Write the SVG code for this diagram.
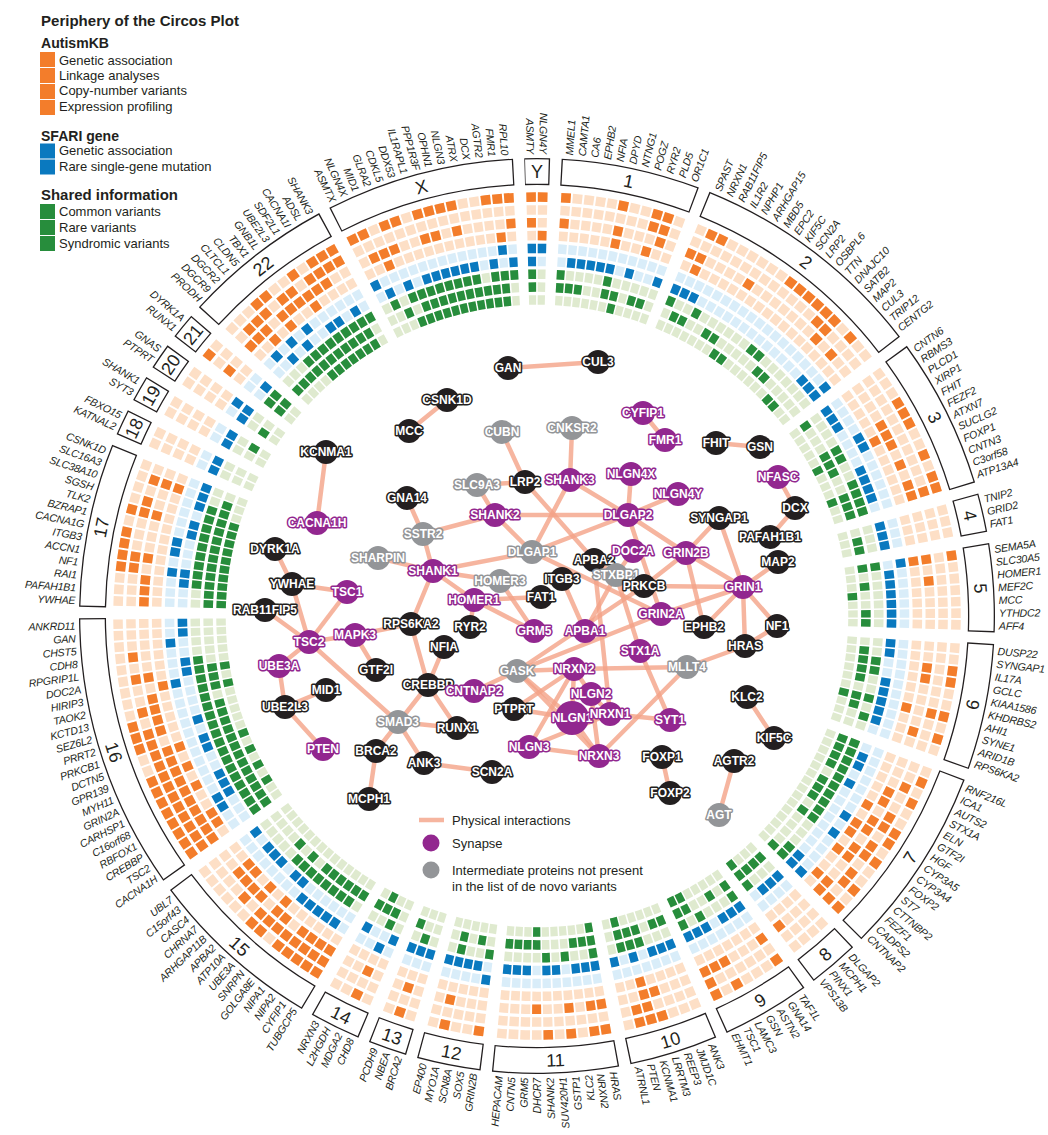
<svg xmlns="http://www.w3.org/2000/svg" width="1048" height="1135" viewBox="0 0 1048 1135">
<defs>
<style>
.lt{stroke-dashoffset:-0.85;stroke-dasharray:8.3 1.7 8.3 11.7 8.3 1.7 8.3 1.7 8.3 1.7 8.3 1.7 8.3 1.7 8.3 1.7 8.3 1.7 8.3 1.7 8.3 1.7 8.3 1.7 8.3 11.7 8.3 1.7 8.3 1.7 8.3 1.7 8.3 1.7 8.3 1.7 8.3 1.7 8.3 1.7 8.3 1.7 8.3 1.7 8.3 1.7 8.3 1.7 8.3 1.7 8.3 1.7 8.3 1.7 8.3 1.7 8.3 1.7 8.3 1.7 8.3 1.7 8.3 11.7 8.3 1.7 8.3 1.7 8.3 1.7 8.3 1.7 8.3 1.7 8.3 1.7 8.3 1.7 8.3 1.7 8.3 1.7 8.3 1.7 8.3 1.7 8.3 11.7 8.3 1.7 8.3 1.7 8.3 11.7 8.3 1.7 8.3 1.7 8.3 1.7 8.3 1.7 8.3 1.7 8.3 1.7 8.3 11.7 8.3 1.7 8.3 1.7 8.3 1.7 8.3 1.7 8.3 1.7 8.3 1.7 8.3 1.7 8.3 1.7 8.3 1.7 8.3 11.7 8.3 1.7 8.3 1.7 8.3 1.7 8.3 1.7 8.3 1.7 8.3 1.7 8.3 1.7 8.3 1.7 8.3 1.7 8.3 1.7 8.3 1.7 8.3 1.7 8.3 1.7 8.3 1.7 8.3 11.7 8.3 1.7 8.3 1.7 8.3 1.7 8.3 11.7 8.3 1.7 8.3 1.7 8.3 1.7 8.3 1.7 8.3 1.7 8.3 1.7 8.3 11.7 8.3 1.7 8.3 1.7 8.3 1.7 8.3 1.7 8.3 1.7 8.3 1.7 8.3 11.7 8.3 1.7 8.3 1.7 8.3 1.7 8.3 1.7 8.3 1.7 8.3 1.7 8.3 1.7 8.3 1.7 8.3 1.7 8.3 11.7 8.3 1.7 8.3 1.7 8.3 1.7 8.3 1.7 8.3 11.7 8.3 1.7 8.3 1.7 8.3 11.7 8.3 1.7 8.3 1.7 8.3 1.7 8.3 11.7 8.3 1.7 8.3 1.7 8.3 1.7 8.3 1.7 8.3 1.7 8.3 1.7 8.3 1.7 8.3 1.7 8.3 1.7 8.3 1.7 8.3 1.7 8.3 1.7 8.3 1.7 8.3 11.7 8.3 1.7 8.3 1.7 8.3 1.7 8.3 1.7 8.3 1.7 8.3 1.7 8.3 1.7 8.3 1.7 8.3 1.7 8.3 1.7 8.3 1.7 8.3 1.7 8.3 1.7 8.3 1.7 8.3 1.7 8.3 1.7 8.3 1.7 8.3 1.7 8.3 1.7 8.3 1.7 8.3 1.7 8.3 11.7 8.3 1.7 8.3 1.7 8.3 1.7 8.3 1.7 8.3 1.7 8.3 1.7 8.3 1.7 8.3 1.7 8.3 1.7 8.3 1.7 8.3 1.7 8.3 1.7 8.3 11.7 8.3 1.7 8.3 11.7 8.3 1.7 8.3 11.7 8.3 1.7 8.3 11.7 8.3 1.7 8.3 11.7 8.3 1.7 8.3 1.7 8.3 1.7 8.3 1.7 8.3 1.7 8.3 1.7 8.3 1.7 8.3 1.7 8.3 1.7 8.3 1.7 8.3 1.7 8.3 11.7 8.3 1.7 8.3 1.7 8.3 1.7 8.3 1.7 8.3 1.7 8.3 1.7 8.3 1.7 8.3 1.7 8.3 1.7 8.3 1.7 8.3 1.7 8.3 1.7 8.3 1.7 8.3 1.7 8.3 11.7}
.lo{stroke:#fddfc6}.lb{stroke:#d9edf9}.lg{stroke:#dfeacf}
.do{stroke:#f37d2b}.db{stroke:#0a79bf}.dg{stroke:#278d3c}
.gl{font-family:"Liberation Sans",Arial,sans-serif;font-style:italic;font-size:10.6px;letter-spacing:-0.2px;fill:#231f20}
.gi{text-anchor:end}
.cn{font-family:"Liberation Sans",Arial,sans-serif;font-size:18px;fill:#231f20;text-anchor:middle}
.lgt{font-family:"Liberation Sans",Arial,sans-serif;font-size:13px;fill:#231f20}
.lgh{font-family:"Liberation Sans",Arial,sans-serif;font-size:15.5px;font-weight:bold;fill:#231f20}
#connectors line{stroke:#f4a287;stroke-width:4.5;stroke-opacity:0.8;stroke-linecap:round}
.n text{font-family:"Liberation Sans",Arial,sans-serif;font-weight:bold;font-size:12px;fill:#fff;text-anchor:middle;paint-order:stroke;stroke-width:3;stroke-linejoin:round}
.b circle{fill:#231f20}.b text{stroke:#231f20}
.p circle{fill:#92278f}.p text{stroke:#92278f}
.g circle{fill:#939598}.g text{stroke:#939598}
</style>
<circle id="k1" r="361.2817" fill="none" stroke-width="8.191" transform="translate(537 616) rotate(-91.5859) scale(1.15976)"/>
<circle id="k2" r="361.2817" fill="none" stroke-width="8.452" transform="translate(537 616) rotate(-91.5859) scale(1.12405)"/>
<circle id="k3" r="361.2817" fill="none" stroke-width="8.727" transform="translate(537 616) rotate(-91.5859) scale(1.08862)"/>
<circle id="k4" r="361.2817" fill="none" stroke-width="9.022" transform="translate(537 616) rotate(-91.5859) scale(1.05292)"/>
<circle id="k5" r="361.2817" fill="none" stroke-width="9.339" transform="translate(537 616) rotate(-91.5859) scale(1.01721)"/>
<circle id="k6" r="361.2817" fill="none" stroke-width="9.679" transform="translate(537 616) rotate(-91.5859) scale(0.98150)"/>
<circle id="k7" r="361.2817" fill="none" stroke-width="10.042" transform="translate(537 616) rotate(-91.5859) scale(0.94607)"/>
<circle id="k8" r="361.2817" fill="none" stroke-width="10.436" transform="translate(537 616) rotate(-91.5859) scale(0.91036)"/>
<circle id="k9" r="361.2817" fill="none" stroke-width="10.861" transform="translate(537 616) rotate(-91.5859) scale(0.87466)"/>
</defs>
<rect width="1048" height="1135" fill="#fff"/>

<g id="legend">
<text class="lgh" x="41" y="26" textLength="198" lengthAdjust="spacingAndGlyphs">Periphery of the Circos Plot</text>
<text class="lgh" x="41" y="48" textLength="68" lengthAdjust="spacingAndGlyphs">AutismKB</text>
<rect x="40" y="52" width="15" height="15" fill="#f37d2b"/>
<rect x="40" y="68" width="15" height="15" fill="#f37d2b"/>
<rect x="40" y="84" width="15" height="15" fill="#f37d2b"/>
<rect x="40" y="100" width="15" height="15" fill="#f37d2b"/>
<text class="lgt" x="59" y="64.5">Genetic association</text>
<text class="lgt" x="59" y="80.2">Linkage analyses</text>
<text class="lgt" x="59" y="95.2">Copy-number variants</text>
<text class="lgt" x="59" y="111.2">Expression profiling</text>
<text class="lgh" x="41" y="140.5" textLength="78" lengthAdjust="spacingAndGlyphs">SFARI gene</text>
<rect x="40" y="143.5" width="15" height="15" fill="#0a79bf"/>
<rect x="40" y="159.5" width="15" height="15" fill="#0a79bf"/>
<text class="lgt" x="59" y="155.2">Genetic association</text>
<text class="lgt" x="59" y="171.2">Rare single-gene mutation</text>
<text class="lgh" x="41" y="199.5" textLength="137" lengthAdjust="spacingAndGlyphs">Shared information</text>
<rect x="40" y="204" width="15" height="15" fill="#278d3c"/>
<rect x="40" y="220" width="15" height="15" fill="#278d3c"/>
<rect x="40" y="236" width="15" height="15" fill="#278d3c"/>
<text class="lgt" x="59" y="216.2">Common variants</text>
<text class="lgt" x="59" y="232.2">Rare variants</text>
<text class="lgt" x="59" y="248.2">Syndromic variants</text>
</g>

<g id="heatmap-light">
<use href="#k1" class="lt lo"/><use href="#k2" class="lt lo"/><use href="#k3" class="lt lo"/><use href="#k4" class="lt lo"/>
<use href="#k5" class="lt lb"/><use href="#k6" class="lt lb"/>
<use href="#k7" class="lt lg"/><use href="#k8" class="lt lg"/><use href="#k9" class="lt lg"/>
</g>

<g id="heatmap-dark">
<g id="cY" stroke-dashoffset="-0.85">
<use href="#k1" class="do" stroke-dasharray="8.3 1.7 8.3 3000"/>
<use href="#k3" class="do" stroke-dasharray="8.3 3000"/>
<use href="#k4" class="do" stroke-dasharray="0 10 8.3 3000"/>
<use href="#k5" class="db" stroke-dasharray="8.3 1.7 8.3 3000"/>
<use href="#k6" class="db" stroke-dasharray="8.3 3000"/>
<use href="#k7" class="dg" stroke-dasharray="8.3 3000"/>
<use href="#k8" class="dg" stroke-dasharray="8.3 3000"/>
</g>
<g id="c1" stroke-dashoffset="-30.85">
<use href="#k1" class="do" stroke-dasharray="8.3 41.7 8.3 21.7 8.3 1.7 8.3 3000"/>
<use href="#k2" class="do" stroke-dasharray="0 80 8.3 1.7 8.3 3000"/>
<use href="#k3" class="do" stroke-dasharray="8.3 41.7 8.3 31.7 8.3 3000"/>
<use href="#k4" class="do" stroke-dasharray="0 50 8.3 21.7 8.3 3000"/>
<use href="#k6" class="db" stroke-dasharray="0 10 8.3 1.7 8.3 1.7 8.3 1.7 8.3 1.7 8.3 11.7 8.3 21.7 8.3 3000"/>
<use href="#k7" class="dg" stroke-dasharray="8.3 41.7 8.3 3000"/>
<use href="#k8" class="dg" stroke-dasharray="8.3 1.7 8.3 1.7 8.3 21.7 8.3 1.7 8.3 11.7 8.3 1.7 8.3 3000"/>
<use href="#k9" class="dg" stroke-dasharray="0 60 8.3 3000"/>
</g>
<g id="c2" stroke-dashoffset="-150.85">
<use href="#k1" class="do" stroke-dasharray="0 10 8.3 1.7 8.3 61.7 8.3 1.7 8.3 1.7 8.3 1.7 8.3 1.7 8.3 1.7 8.3 11.7 8.3 3000"/>
<use href="#k2" class="do" stroke-dasharray="0 130 8.3 1.7 8.3 3000"/>
<use href="#k3" class="do" stroke-dasharray="8.3 1.7 8.3 41.7 8.3 71.7 8.3 11.7 8.3 3000"/>
<use href="#k4" class="do" stroke-dasharray="0 10 8.3 3000"/>
<use href="#k5" class="db" stroke-dasharray="0 180 8.3 3000"/>
<use href="#k6" class="db" stroke-dasharray="8.3 1.7 8.3 1.7 8.3 131.7 8.3 1.7 8.3 1.7 8.3 3000"/>
<use href="#k7" class="dg" stroke-dasharray="8.3 21.7 8.3 61.7 8.3 1.7 8.3 3000"/>
<use href="#k8" class="dg" stroke-dasharray="0 10 8.3 1.7 8.3 21.7 8.3 1.7 8.3 51.7 8.3 1.7 8.3 3000"/>
<use href="#k9" class="dg" stroke-dasharray="0 70 8.3 1.7 8.3 61.7 8.3 1.7 8.3 3000"/>
</g>
<g id="c3" stroke-dashoffset="-350.85">
<use href="#k1" class="do" stroke-dasharray="0 30 8.3 1.7 8.3 1.7 8.3 21.7 8.3 11.7 8.3 1.7 8.3 3000"/>
<use href="#k2" class="do" stroke-dasharray="0 110 8.3 3000"/>
<use href="#k3" class="do" stroke-dasharray="0 40 8.3 1.7 8.3 1.7 8.3 11.7 8.3 11.7 8.3 1.7 8.3 3000"/>
<use href="#k4" class="do" stroke-dasharray="0 50 8.3 3000"/>
<use href="#k5" class="db" stroke-dasharray="0 40 8.3 1.7 8.3 3000"/>
<use href="#k6" class="db" stroke-dasharray="8.3 1.7 8.3 1.7 8.3 41.7 8.3 1.7 8.3 1.7 8.3 1.7 8.3 3000"/>
<use href="#k7" class="dg" stroke-dasharray="0 40 8.3 1.7 8.3 21.7 8.3 1.7 8.3 1.7 8.3 1.7 8.3 3000"/>
<use href="#k8" class="dg" stroke-dasharray="8.3 31.7 8.3 1.7 8.3 1.7 8.3 21.7 8.3 1.7 8.3 1.7 8.3 3000"/>
<use href="#k9" class="dg" stroke-dasharray="0 50 8.3 31.7 8.3 3000"/>
</g>
<g id="c4" stroke-dashoffset="-480.85">
<use href="#k6" class="db" stroke-dasharray="8.3 1.7 8.3 1.7 8.3 3000"/>
<use href="#k8" class="dg" stroke-dasharray="0 10 8.3 1.7 8.3 3000"/>
</g>
<g id="c5" stroke-dashoffset="-520.85">
<use href="#k1" class="do" stroke-dasharray="8.3 3000"/>
<use href="#k3" class="do" stroke-dasharray="8.3 11.7 8.3 3000"/>
<use href="#k4" class="do" stroke-dasharray="8.3 3000"/>
<use href="#k5" class="db" stroke-dasharray="8.3 3000"/>
<use href="#k6" class="db" stroke-dasharray="0 10 8.3 1.7 8.3 1.7 8.3 1.7 8.3 1.7 8.3 1.7 8.3 3000"/>
<use href="#k7" class="dg" stroke-dasharray="8.3 3000"/>
<use href="#k8" class="dg" stroke-dasharray="8.3 11.7 8.3 21.7 8.3 1.7 8.3 3000"/>
<use href="#k9" class="dg" stroke-dasharray="0 30 8.3 3000"/>
</g>
<g id="c6" stroke-dashoffset="-600.85">
<use href="#k1" class="do" stroke-dasharray="0 20 8.3 1.7 8.3 21.7 8.3 11.7 8.3 3000"/>
<use href="#k2" class="do" stroke-dasharray="0 60 8.3 3000"/>
<use href="#k3" class="do" stroke-dasharray="0 20 8.3 1.7 8.3 41.7 8.3 3000"/>
<use href="#k4" class="do" stroke-dasharray="0 60 8.3 3000"/>
<use href="#k6" class="db" stroke-dasharray="8.3 1.7 8.3 21.7 8.3 1.7 8.3 1.7 8.3 1.7 8.3 1.7 8.3 3000"/>
<use href="#k7" class="dg" stroke-dasharray="0 20 8.3 1.7 8.3 21.7 8.3 11.7 8.3 3000"/>
<use href="#k8" class="dg" stroke-dasharray="0 10 8.3 1.7 8.3 1.7 8.3 1.7 8.3 11.7 8.3 1.7 8.3 3000"/>
<use href="#k9" class="dg" stroke-dasharray="0 60 8.3 3000"/>
</g>
<g id="c7" stroke-dashoffset="-710.85">
<use href="#k1" class="do" stroke-dasharray="0 10 8.3 11.7 8.3 21.7 8.3 1.7 8.3 11.7 8.3 21.7 8.3 11.7 8.3 3000"/>
<use href="#k2" class="do" stroke-dasharray="0 20 8.3 21.7 8.3 1.7 8.3 11.7 8.3 1.7 8.3 11.7 8.3 1.7 8.3 11.7 8.3 3000"/>
<use href="#k3" class="do" stroke-dasharray="0 30 8.3 1.7 8.3 11.7 8.3 1.7 8.3 11.7 8.3 1.7 8.3 21.7 8.3 1.7 8.3 3000"/>
<use href="#k4" class="do" stroke-dasharray="0 50 8.3 11.7 8.3 1.7 8.3 11.7 8.3 21.7 8.3 3000"/>
<use href="#k5" class="db" stroke-dasharray="0 70 8.3 11.7 8.3 41.7 8.3 3000"/>
<use href="#k6" class="db" stroke-dasharray="0 10 8.3 1.7 8.3 11.7 8.3 81.7 8.3 1.7 8.3 3000"/>
<use href="#k7" class="dg" stroke-dasharray="8.3 1.7 8.3 1.7 8.3 1.7 8.3 1.7 8.3 1.7 8.3 1.7 8.3 1.7 8.3 1.7 8.3 1.7 8.3 31.7 8.3 1.7 8.3 3000"/>
<use href="#k8" class="dg" stroke-dasharray="8.3 1.7 8.3 1.7 8.3 1.7 8.3 11.7 8.3 1.7 8.3 1.7 8.3 11.7 8.3 41.7 8.3 3000"/>
</g>
<g id="c8" stroke-dashoffset="-870.85">
<use href="#k3" class="do" stroke-dasharray="0 30 8.3 3000"/>
<use href="#k6" class="db" stroke-dasharray="8.3 1.7 8.3 1.7 8.3 3000"/>
<use href="#k7" class="dg" stroke-dasharray="0 30 8.3 3000"/>
<use href="#k8" class="dg" stroke-dasharray="8.3 1.7 8.3 1.7 8.3 1.7 8.3 3000"/>
<use href="#k9" class="dg" stroke-dasharray="0 30 8.3 3000"/>
</g>
<g id="c9" stroke-dashoffset="-920.85">
<use href="#k1" class="do" stroke-dasharray="8.3 31.7 8.3 11.7 8.3 3000"/>
<use href="#k2" class="do" stroke-dasharray="0 60 8.3 3000"/>
<use href="#k3" class="do" stroke-dasharray="8.3 31.7 8.3 1.7 8.3 1.7 8.3 3000"/>
<use href="#k6" class="db" stroke-dasharray="8.3 1.7 8.3 1.7 8.3 11.7 8.3 1.7 8.3 1.7 8.3 3000"/>
<use href="#k7" class="dg" stroke-dasharray="8.3 31.7 8.3 11.7 8.3 3000"/>
<use href="#k8" class="dg" stroke-dasharray="8.3 11.7 8.3 21.7 8.3 1.7 8.3 3000"/>
<use href="#k9" class="dg" stroke-dasharray="0 50 8.3 1.7 8.3 3000"/>
</g>
<g id="c10" stroke-dashoffset="-1000.85">
<use href="#k1" class="do" stroke-dasharray="0 30 8.3 1.7 8.3 1.7 8.3 3000"/>
<use href="#k2" class="do" stroke-dasharray="0 40 8.3 1.7 8.3 3000"/>
<use href="#k3" class="do" stroke-dasharray="0 30 8.3 1.7 8.3 3000"/>
<use href="#k4" class="do" stroke-dasharray="0 40 8.3 3000"/>
<use href="#k6" class="db" stroke-dasharray="8.3 1.7 8.3 1.7 8.3 11.7 8.3 11.7 8.3 3000"/>
<use href="#k7" class="dg" stroke-dasharray="0 30 8.3 1.7 8.3 1.7 8.3 3000"/>
<use href="#k8" class="dg" stroke-dasharray="8.3 1.7 8.3 11.7 8.3 1.7 8.3 1.7 8.3 3000"/>
<use href="#k9" class="dg" stroke-dasharray="0 50 8.3 3000"/>
</g>
<g id="c11" stroke-dashoffset="-1080.85">
<use href="#k1" class="do" stroke-dasharray="8.3 1.7 8.3 11.7 8.3 11.7 8.3 3000"/>
<use href="#k3" class="do" stroke-dasharray="8.3 1.7 8.3 11.7 8.3 21.7 8.3 3000"/>
<use href="#k6" class="db" stroke-dasharray="8.3 1.7 8.3 1.7 8.3 11.7 8.3 1.7 8.3 11.7 8.3 1.7 8.3 1.7 8.3 3000"/>
<use href="#k7" class="dg" stroke-dasharray="8.3 21.7 8.3 11.7 8.3 3000"/>
<use href="#k8" class="dg" stroke-dasharray="8.3 1.7 8.3 1.7 8.3 31.7 8.3 1.7 8.3 1.7 8.3 1.7 8.3 3000"/>
<use href="#k9" class="dg" stroke-dasharray="8.3 51.7 8.3 3000"/>
</g>
<g id="c12" stroke-dashoffset="-1190.85">
<use href="#k1" class="do" stroke-dasharray="8.3 21.7 8.3 3000"/>
<use href="#k3" class="do" stroke-dasharray="0 30 8.3 3000"/>
<use href="#k5" class="db" stroke-dasharray="8.3 3000"/>
<use href="#k6" class="db" stroke-dasharray="0 10 8.3 1.7 8.3 1.7 8.3 1.7 8.3 3000"/>
<use href="#k7" class="dg" stroke-dasharray="8.3 21.7 8.3 3000"/>
<use href="#k8" class="dg" stroke-dasharray="0 10 8.3 11.7 8.3 3000"/>
</g>
<g id="c13" stroke-dashoffset="-1250.85">
<use href="#k1" class="do" stroke-dasharray="0 10 8.3 3000"/>
<use href="#k3" class="do" stroke-dasharray="0 10 8.3 3000"/>
<use href="#k6" class="db" stroke-dasharray="8.3 1.7 8.3 1.7 8.3 3000"/>
<use href="#k7" class="dg" stroke-dasharray="0 10 8.3 3000"/>
<use href="#k8" class="dg" stroke-dasharray="0 20 8.3 3000"/>
</g>
<g id="c14" stroke-dashoffset="-1290.85">
<use href="#k1" class="do" stroke-dasharray="0 10 8.3 3000"/>
<use href="#k3" class="do" stroke-dasharray="0 10 8.3 3000"/>
<use href="#k5" class="db" stroke-dasharray="0 10 8.3 3000"/>
<use href="#k6" class="db" stroke-dasharray="8.3 21.7 8.3 3000"/>
<use href="#k7" class="dg" stroke-dasharray="0 10 8.3 3000"/>
<use href="#k8" class="dg" stroke-dasharray="0 10 8.3 1.7 8.3 1.7 8.3 3000"/>
<use href="#k9" class="dg" stroke-dasharray="0 20 8.3 3000"/>
</g>
<g id="c15" stroke-dashoffset="-1340.85">
<use href="#k1" class="do" stroke-dasharray="8.3 1.7 8.3 1.7 8.3 1.7 8.3 1.7 8.3 11.7 8.3 1.7 8.3 3000"/>
<use href="#k2" class="do" stroke-dasharray="8.3 1.7 8.3 1.7 8.3 1.7 8.3 1.7 8.3 1.7 8.3 1.7 8.3 1.7 8.3 11.7 8.3 3000"/>
<use href="#k3" class="do" stroke-dasharray="8.3 1.7 8.3 1.7 8.3 1.7 8.3 11.7 8.3 1.7 8.3 11.7 8.3 1.7 8.3 1.7 8.3 1.7 8.3 3000"/>
<use href="#k4" class="do" stroke-dasharray="0 60 8.3 11.7 8.3 11.7 8.3 1.7 8.3 3000"/>
<use href="#k5" class="db" stroke-dasharray="0 10 8.3 1.7 8.3 1.7 8.3 1.7 8.3 1.7 8.3 3000"/>
<use href="#k6" class="db" stroke-dasharray="0 60 8.3 1.7 8.3 11.7 8.3 1.7 8.3 1.7 8.3 11.7 8.3 3000"/>
<use href="#k7" class="dg" stroke-dasharray="0 10 8.3 1.7 8.3 1.7 8.3 1.7 8.3 1.7 8.3 1.7 8.3 1.7 8.3 1.7 8.3 3000"/>
<use href="#k8" class="dg" stroke-dasharray="8.3 1.7 8.3 1.7 8.3 1.7 8.3 1.7 8.3 1.7 8.3 11.7 8.3 11.7 8.3 3000"/>
</g>
<g id="c16" stroke-dashoffset="-1490.85">
<use href="#k1" class="do" stroke-dasharray="8.3 1.7 8.3 1.7 8.3 1.7 8.3 1.7 8.3 1.7 8.3 1.7 8.3 1.7 8.3 21.7 8.3 1.7 8.3 1.7 8.3 3000"/>
<use href="#k2" class="do" stroke-dasharray="8.3 1.7 8.3 1.7 8.3 1.7 8.3 1.7 8.3 1.7 8.3 1.7 8.3 1.7 8.3 1.7 8.3 1.7 8.3 1.7 8.3 1.7 8.3 11.7 8.3 21.7 8.3 11.7 8.3 3000"/>
<use href="#k3" class="do" stroke-dasharray="8.3 1.7 8.3 1.7 8.3 1.7 8.3 1.7 8.3 1.7 8.3 1.7 8.3 1.7 8.3 1.7 8.3 1.7 8.3 11.7 8.3 1.7 8.3 1.7 8.3 1.7 8.3 11.7 8.3 3000"/>
<use href="#k4" class="do" stroke-dasharray="0 10 8.3 1.7 8.3 21.7 8.3 11.7 8.3 11.7 8.3 51.7 8.3 3000"/>
<use href="#k5" class="db" stroke-dasharray="0 20 8.3 1.7 8.3 111.7 8.3 31.7 8.3 3000"/>
<use href="#k6" class="db" stroke-dasharray="0 30 8.3 1.7 8.3 1.7 8.3 21.7 8.3 1.7 8.3 11.7 8.3 41.7 8.3 1.7 8.3 21.7 8.3 1.7 8.3 3000"/>
<use href="#k7" class="dg" stroke-dasharray="8.3 1.7 8.3 1.7 8.3 1.7 8.3 1.7 8.3 1.7 8.3 1.7 8.3 1.7 8.3 1.7 8.3 1.7 8.3 1.7 8.3 1.7 8.3 1.7 8.3 1.7 8.3 1.7 8.3 1.7 8.3 1.7 8.3 1.7 8.3 3000"/>
<use href="#k8" class="dg" stroke-dasharray="8.3 1.7 8.3 1.7 8.3 1.7 8.3 1.7 8.3 1.7 8.3 1.7 8.3 1.7 8.3 1.7 8.3 1.7 8.3 1.7 8.3 1.7 8.3 1.7 8.3 11.7 8.3 1.7 8.3 1.7 8.3 3000"/>
<use href="#k9" class="dg" stroke-dasharray="0 20 8.3 11.7 8.3 11.7 8.3 11.7 8.3 51.7 8.3 11.7 8.3 3000"/>
</g>
<g id="c17" stroke-dashoffset="-1720.85">
<use href="#k1" class="do" stroke-dasharray="0 30 8.3 1.7 8.3 1.7 8.3 1.7 8.3 11.7 8.3 3000"/>
<use href="#k2" class="do" stroke-dasharray="0 30 8.3 1.7 8.3 31.7 8.3 1.7 8.3 11.7 8.3 3000"/>
<use href="#k3" class="do" stroke-dasharray="8.3 1.7 8.3 1.7 8.3 11.7 8.3 31.7 8.3 21.7 8.3 3000"/>
<use href="#k4" class="do" stroke-dasharray="0 110 8.3 3000"/>
<use href="#k5" class="db" stroke-dasharray="0 30 8.3 11.7 8.3 1.7 8.3 3000"/>
<use href="#k6" class="db" stroke-dasharray="0 20 8.3 1.7 8.3 31.7 8.3 1.7 8.3 11.7 8.3 1.7 8.3 1.7 8.3 3000"/>
<use href="#k7" class="dg" stroke-dasharray="0 20 8.3 1.7 8.3 1.7 8.3 1.7 8.3 1.7 8.3 1.7 8.3 1.7 8.3 1.7 8.3 1.7 8.3 3000"/>
<use href="#k8" class="dg" stroke-dasharray="8.3 1.7 8.3 1.7 8.3 1.7 8.3 1.7 8.3 1.7 8.3 1.7 8.3 1.7 8.3 1.7 8.3 1.7 8.3 1.7 8.3 1.7 8.3 3000"/>
<use href="#k9" class="dg" stroke-dasharray="8.3 1.7 8.3 1.7 8.3 1.7 8.3 1.7 8.3 1.7 8.3 1.7 8.3 1.7 8.3 1.7 8.3 1.7 8.3 3000"/>
</g>
<g id="c18" stroke-dashoffset="-1860.85">
<use href="#k6" class="db" stroke-dasharray="8.3 1.7 8.3 3000"/>
</g>
<g id="c19" stroke-dashoffset="-1890.85">
<use href="#k6" class="db" stroke-dasharray="8.3 1.7 8.3 3000"/>
<use href="#k8" class="dg" stroke-dasharray="0 10 8.3 3000"/>
</g>
<g id="c20" stroke-dashoffset="-1920.85">
<use href="#k5" class="db" stroke-dasharray="0 10 8.3 3000"/>
<use href="#k6" class="db" stroke-dasharray="8.3 1.7 8.3 3000"/>
<use href="#k8" class="dg" stroke-dasharray="8.3 3000"/>
</g>
<g id="c21" stroke-dashoffset="-1950.85">
<use href="#k1" class="do" stroke-dasharray="8.3 3000"/>
<use href="#k3" class="do" stroke-dasharray="8.3 3000"/>
<use href="#k6" class="db" stroke-dasharray="0 10 8.3 3000"/>
<use href="#k7" class="dg" stroke-dasharray="8.3 1.7 8.3 3000"/>
<use href="#k8" class="dg" stroke-dasharray="8.3 1.7 8.3 3000"/>
</g>
<g id="c22" stroke-dashoffset="-1980.85">
<use href="#k1" class="do" stroke-dasharray="0 30 8.3 1.7 8.3 21.7 8.3 11.7 8.3 1.7 8.3 1.7 8.3 3000"/>
<use href="#k2" class="do" stroke-dasharray="0 10 8.3 1.7 8.3 1.7 8.3 11.7 8.3 1.7 8.3 11.7 8.3 1.7 8.3 1.7 8.3 1.7 8.3 3000"/>
<use href="#k3" class="do" stroke-dasharray="8.3 1.7 8.3 1.7 8.3 11.7 8.3 1.7 8.3 1.7 8.3 1.7 8.3 1.7 8.3 1.7 8.3 3000"/>
<use href="#k4" class="do" stroke-dasharray="0 20 8.3 11.7 8.3 21.7 8.3 3000"/>
<use href="#k5" class="db" stroke-dasharray="0 10 8.3 11.7 8.3 11.7 8.3 3000"/>
<use href="#k6" class="db" stroke-dasharray="0 20 8.3 11.7 8.3 21.7 8.3 1.7 8.3 11.7 8.3 3000"/>
<use href="#k7" class="dg" stroke-dasharray="0 30 8.3 1.7 8.3 1.7 8.3 1.7 8.3 1.7 8.3 1.7 8.3 1.7 8.3 1.7 8.3 1.7 8.3 3000"/>
<use href="#k8" class="dg" stroke-dasharray="8.3 1.7 8.3 1.7 8.3 1.7 8.3 1.7 8.3 1.7 8.3 1.7 8.3 1.7 8.3 1.7 8.3 1.7 8.3 1.7 8.3 3000"/>
<use href="#k9" class="dg" stroke-dasharray="0 40 8.3 1.7 8.3 1.7 8.3 1.7 8.3 1.7 8.3 1.7 8.3 1.7 8.3 3000"/>
</g>
<g id="cX" stroke-dashoffset="-2110.85">
<use href="#k1" class="do" stroke-dasharray="8.3 1.7 8.3 11.7 8.3 1.7 8.3 11.7 8.3 1.7 8.3 1.7 8.3 1.7 8.3 21.7 8.3 1.7 8.3 1.7 8.3 3000"/>
<use href="#k3" class="do" stroke-dasharray="0 10 8.3 1.7 8.3 1.7 8.3 21.7 8.3 1.7 8.3 11.7 8.3 41.7 8.3 3000"/>
<use href="#k4" class="do" stroke-dasharray="0 20 8.3 101.7 8.3 3000"/>
<use href="#k5" class="db" stroke-dasharray="8.3 121.7 8.3 3000"/>
<use href="#k6" class="db" stroke-dasharray="0 10 8.3 11.7 8.3 11.7 8.3 1.7 8.3 1.7 8.3 1.7 8.3 1.7 8.3 1.7 8.3 11.7 8.3 11.7 8.3 3000"/>
<use href="#k7" class="dg" stroke-dasharray="0 10 8.3 11.7 8.3 1.7 8.3 1.7 8.3 1.7 8.3 1.7 8.3 1.7 8.3 1.7 8.3 1.7 8.3 11.7 8.3 1.7 8.3 1.7 8.3 3000"/>
<use href="#k8" class="dg" stroke-dasharray="0 20 8.3 11.7 8.3 1.7 8.3 1.7 8.3 1.7 8.3 1.7 8.3 1.7 8.3 1.7 8.3 1.7 8.3 1.7 8.3 1.7 8.3 3000"/>
<use href="#k9" class="dg" stroke-dasharray="0 30 8.3 1.7 8.3 1.7 8.3 1.7 8.3 1.7 8.3 1.7 8.3 1.7 8.3 1.7 8.3 1.7 8.3 1.7 8.3 1.7 8.3 3000"/>
</g>
</g>

<g id="chromosome-boxes" fill="none" transform="translate(537 616) rotate(-91.5859) scale(1.23034)">
<circle r="361.2817" stroke="#231f20" stroke-width="21.95" stroke-dashoffset="0.5" stroke-dasharray="21 9 111 9 191 9 121 9 31 9 71 9 101 9 151 9 41 9 71 9 71 9 101 9 51 9 31 9 41 9 141 9 221 9 131 9 21 9 21 9 21 9 21 9 121 9 151 9"/>
<circle r="361.2817" stroke="#fff" stroke-width="19.85" stroke-dashoffset="-0.55" stroke-dasharray="18.9 11.1 108.9 11.1 188.9 11.1 118.9 11.1 28.9 11.1 68.9 11.1 98.9 11.1 148.9 11.1 38.9 11.1 68.9 11.1 68.9 11.1 98.9 11.1 48.9 11.1 28.9 11.1 38.9 11.1 138.9 11.1 218.9 11.1 128.9 11.1 18.9 11.1 18.9 11.1 18.9 11.1 18.9 11.1 118.9 11.1 148.9 11.1"/>
</g>

<g id="chromosome-numbers" class="cn">
<text transform="translate(537 171.5)" y="6.3">Y</text>
<text transform="translate(628.6 181) rotate(11.894)" y="6.3">1</text>
<text transform="translate(806.1 262.2) rotate(37.27)" y="6.3">2</text>
<text transform="translate(934.6 417.3) rotate(63.44)" y="6.3">3</text>
<text transform="translate(970 515.4) rotate(76.92)" y="6.3">4</text>
<text transform="translate(980.6 588.3) rotate(86.43)" y="6.3">5</text>
<text transform="translate(972.6 704.6) rotate(-78.5)" y="6.3">6</text>
<text transform="translate(910.2 857.5) rotate(-57.09)" y="6.3">7</text>
<text transform="translate(825.3 954.3) rotate(-40.44)" y="6.3">8</text>
<text transform="translate(760.2 1000.4) rotate(-30.13)" y="6.3">9</text>
<text transform="translate(670.3 1040.1) rotate(-17.45)" y="6.3">10</text>
<text transform="translate(555.5 1060.1) rotate(-2.38)" y="6.3">11</text>
<text transform="translate(451.4 1052.2) rotate(11.1)" y="6.3">12</text>
<text transform="translate(392.1 1036.2) rotate(19.03)" y="6.3">13</text>
<text transform="translate(341 1015) rotate(26.17)" y="6.3">14</text>
<text transform="translate(239.5 946.2) rotate(42.03)" y="6.3">15</text>
<text transform="translate(113.9 752.2) rotate(72.16)" y="6.3">16</text>
<text transform="translate(101.4 527.4) rotate(-78.5)" y="6.3">17</text>
<text transform="translate(134.1 428.3) rotate(-65.02)" y="6.3">18</text>
<text transform="translate(151.1 395.5) rotate(-60.26)" y="6.3">19</text>
<text transform="translate(170.6 364.3) rotate(-55.51)" y="6.3">20</text>
<text transform="translate(192.9 334.6) rotate(-50.75)" y="6.3">21</text>
<text transform="translate(263 266) rotate(-38.06)" y="6.3">22</text>
<text transform="translate(421.5 186.8) rotate(-15.07)" y="6.3">X</text>
</g>

<g id="gene-labels" class="gl" transform="translate(537 616)">
<g id="labels-out">
<text transform="rotate(-86.035)" x="462" y="4">MMEL1</text>
<text transform="rotate(-84.449)" x="462" y="4">CAMTA1</text>
<text transform="rotate(-82.863)" x="462" y="4">CA6</text>
<text transform="rotate(-81.277)" x="462" y="4">EPHB2</text>
<text transform="rotate(-79.691)" x="462" y="4">NFIA</text>
<text transform="rotate(-78.106)" x="462" y="4">DPYD</text>
<text transform="rotate(-76.52)" x="462" y="4">NTNG1</text>
<text transform="rotate(-74.934)" x="462" y="4">POGZ</text>
<text transform="rotate(-73.348)" x="462" y="4">RYR2</text>
<text transform="rotate(-71.762)" x="462" y="4">PLD5</text>
<text transform="rotate(-70.176)" x="462" y="4">OR1C1</text>
<text transform="rotate(-67.004)" x="462" y="4">SPAST</text>
<text transform="rotate(-65.418)" x="462" y="4">NRXN1</text>
<text transform="rotate(-63.832)" x="462" y="4">RAB11FIP5</text>
<text transform="rotate(-62.247)" x="462" y="4">IL1R2</text>
<text transform="rotate(-60.661)" x="462" y="4">NPHP1</text>
<text transform="rotate(-59.075)" x="462" y="4">ARHGAP15</text>
<text transform="rotate(-57.489)" x="462" y="4">MBD5</text>
<text transform="rotate(-55.903)" x="462" y="4">EPC2</text>
<text transform="rotate(-54.317)" x="462" y="4">KIF5C</text>
<text transform="rotate(-52.731)" x="462" y="4">SCN2A</text>
<text transform="rotate(-51.145)" x="462" y="4">LRP2</text>
<text transform="rotate(-49.559)" x="462" y="4">OSBPL6</text>
<text transform="rotate(-47.973)" x="462" y="4">TTN</text>
<text transform="rotate(-46.388)" x="462" y="4">DNAJC10</text>
<text transform="rotate(-44.802)" x="462" y="4">SATB2</text>
<text transform="rotate(-43.216)" x="462" y="4">MAP2</text>
<text transform="rotate(-41.63)" x="462" y="4">CUL3</text>
<text transform="rotate(-40.044)" x="462" y="4">TRIP12</text>
<text transform="rotate(-38.458)" x="462" y="4">CENTG2</text>
<text transform="rotate(-35.286)" x="462" y="4">CNTN6</text>
<text transform="rotate(-33.7)" x="462" y="4">RBMS3</text>
<text transform="rotate(-32.115)" x="462" y="4">PLCD1</text>
<text transform="rotate(-30.529)" x="462" y="4">XIRP1</text>
<text transform="rotate(-28.943)" x="462" y="4">FHIT</text>
<text transform="rotate(-27.357)" x="462" y="4">FEZF2</text>
<text transform="rotate(-25.771)" x="462" y="4">ATXN7</text>
<text transform="rotate(-24.185)" x="462" y="4">SUCLG2</text>
<text transform="rotate(-22.599)" x="462" y="4">FOXP1</text>
<text transform="rotate(-21.013)" x="462" y="4">CNTN3</text>
<text transform="rotate(-19.427)" x="462" y="4">C3orf58</text>
<text transform="rotate(-17.841)" x="462" y="4">ATP13A4</text>
<text transform="rotate(-14.67)" x="462" y="4">TNIP2</text>
<text transform="rotate(-13.084)" x="462" y="4">GRID2</text>
<text transform="rotate(-11.498)" x="462" y="4">FAT1</text>
<text transform="rotate(-8.326)" x="462" y="4">SEMA5A</text>
<text transform="rotate(-6.74)" x="462" y="4">SLC30A5</text>
<text transform="rotate(-5.154)" x="462" y="4">HOMER1</text>
<text transform="rotate(-3.568)" x="462" y="4">MEF2C</text>
<text transform="rotate(-1.982)" x="462" y="4">MCC</text>
<text transform="rotate(-0.396)" x="462" y="4">YTHDC2</text>
<text transform="rotate(1.19)" x="462" y="4">AFF4</text>
<text transform="rotate(4.361)" x="462" y="4">DUSP22</text>
<text transform="rotate(5.947)" x="462" y="4">SYNGAP1</text>
<text transform="rotate(7.533)" x="462" y="4">IL17A</text>
<text transform="rotate(9.119)" x="462" y="4">GCLC</text>
<text transform="rotate(10.705)" x="462" y="4">KIAA1586</text>
<text transform="rotate(12.291)" x="462" y="4">KHDRBS2</text>
<text transform="rotate(13.877)" x="462" y="4">AHI1</text>
<text transform="rotate(15.463)" x="462" y="4">SYNE1</text>
<text transform="rotate(17.049)" x="462" y="4">ARID1B</text>
<text transform="rotate(18.634)" x="462" y="4">RPS6KA2</text>
<text transform="rotate(21.806)" x="462" y="4">RNF216L</text>
<text transform="rotate(23.392)" x="462" y="4">ICA1</text>
<text transform="rotate(24.978)" x="462" y="4">AUTS2</text>
<text transform="rotate(26.564)" x="462" y="4">STX1A</text>
<text transform="rotate(28.15)" x="462" y="4">ELN</text>
<text transform="rotate(29.736)" x="462" y="4">GTF2I</text>
<text transform="rotate(31.322)" x="462" y="4">HGF</text>
<text transform="rotate(32.907)" x="462" y="4">CYP3A5</text>
<text transform="rotate(34.493)" x="462" y="4">CYP3A4</text>
<text transform="rotate(36.079)" x="462" y="4">FOXP2</text>
<text transform="rotate(37.665)" x="462" y="4">ST7</text>
<text transform="rotate(39.251)" x="462" y="4">CTTNBP2</text>
<text transform="rotate(40.837)" x="462" y="4">FEZF1</text>
<text transform="rotate(42.423)" x="462" y="4">CADPS2</text>
<text transform="rotate(44.009)" x="462" y="4">CNTNAP2</text>
<text transform="rotate(47.181)" x="462" y="4">DLGAP2</text>
<text transform="rotate(48.766)" x="462" y="4">MCPH1</text>
<text transform="rotate(50.352)" x="462" y="4">PINX1</text>
<text transform="rotate(51.938)" x="462" y="4">VPS13B</text>
<text transform="rotate(55.11)" x="462" y="4">TAF1L</text>
<text transform="rotate(56.696)" x="462" y="4">GNA14</text>
<text transform="rotate(58.282)" x="462" y="4">ASTN2</text>
<text transform="rotate(59.868)" x="462" y="4">GSN</text>
<text transform="rotate(61.454)" x="462" y="4">LAMC3</text>
<text transform="rotate(63.04)" x="462" y="4">TSC1</text>
<text transform="rotate(64.626)" x="462" y="4">EHMT1</text>
<text transform="rotate(67.797)" x="462" y="4">ANK3</text>
<text transform="rotate(69.383)" x="462" y="4">JMJD1C</text>
<text transform="rotate(70.969)" x="462" y="4">REEP3</text>
<text transform="rotate(72.555)" x="462" y="4">LRRTM3</text>
<text transform="rotate(74.141)" x="462" y="4">KCNMA1</text>
<text transform="rotate(75.727)" x="462" y="4">PTEN</text>
<text transform="rotate(77.313)" x="462" y="4">ATRNL1</text>
<text transform="rotate(80.485)" x="462" y="4">HRAS</text>
<text transform="rotate(82.071)" x="462" y="4">NRXN2</text>
</g>
<g id="labels-in" class="gi">
<text transform="rotate(89.207)" x="-462" y="4">ASMTY</text>
<text transform="rotate(90.793)" x="-462" y="4">NLGN4Y</text>
<text transform="rotate(-96.344)" x="-462" y="4">KLC2</text>
<text transform="rotate(-94.758)" x="-462" y="4">GSTP1</text>
<text transform="rotate(-93.172)" x="-462" y="4">SUV420H1</text>
<text transform="rotate(-91.586)" x="-462" y="4">SHANK2</text>
<text transform="rotate(-90)" x="-462" y="4">DHCR7</text>
<text transform="rotate(-88.414)" x="-462" y="4">GRM5</text>
<text transform="rotate(-86.828)" x="-462" y="4">CNTN5</text>
<text transform="rotate(-85.242)" x="-462" y="4">HEPACAM</text>
<text transform="rotate(-82.07)" x="-462" y="4">GRIN2B</text>
<text transform="rotate(-80.484)" x="-462" y="4">SOX5</text>
<text transform="rotate(-78.899)" x="-462" y="4">SCN8A</text>
<text transform="rotate(-77.313)" x="-462" y="4">MYO1A</text>
<text transform="rotate(-75.727)" x="-462" y="4">EP400</text>
<text transform="rotate(-72.555)" x="-462" y="4">BRCA2</text>
<text transform="rotate(-70.969)" x="-462" y="4">NBEA</text>
<text transform="rotate(-69.383)" x="-462" y="4">PCDH9</text>
<text transform="rotate(-66.211)" x="-462" y="4">CHD8</text>
<text transform="rotate(-64.626)" x="-462" y="4">MDGA2</text>
<text transform="rotate(-63.04)" x="-462" y="4">L2HGDH</text>
<text transform="rotate(-61.454)" x="-462" y="4">NRXN3</text>
<text transform="rotate(-58.282)" x="-462" y="4">TUBGCP5</text>
<text transform="rotate(-56.696)" x="-462" y="4">CYFIP1</text>
<text transform="rotate(-55.11)" x="-462" y="4">NIPA2</text>
<text transform="rotate(-53.524)" x="-462" y="4">NIPA1</text>
<text transform="rotate(-51.938)" x="-462" y="4">GOLGA8E</text>
<text transform="rotate(-50.352)" x="-462" y="4">SNRPN</text>
<text transform="rotate(-48.767)" x="-462" y="4">UBE3A</text>
<text transform="rotate(-47.181)" x="-462" y="4">ATP10A</text>
<text transform="rotate(-45.595)" x="-462" y="4">APBA2</text>
<text transform="rotate(-44.009)" x="-462" y="4">ARHGAP11B</text>
<text transform="rotate(-42.423)" x="-462" y="4">CHRNA7</text>
<text transform="rotate(-40.837)" x="-462" y="4">CASC4</text>
<text transform="rotate(-39.251)" x="-462" y="4">C15orf43</text>
<text transform="rotate(-37.665)" x="-462" y="4">UBL7</text>
<text transform="rotate(-34.493)" x="-462" y="4">CACNA1H</text>
<text transform="rotate(-32.907)" x="-462" y="4">TSC2</text>
<text transform="rotate(-31.322)" x="-462" y="4">CREBBP</text>
<text transform="rotate(-29.736)" x="-462" y="4">RBFOX1</text>
<text transform="rotate(-28.15)" x="-462" y="4">C16orf68</text>
<text transform="rotate(-26.564)" x="-462" y="4">CARHSP1</text>
<text transform="rotate(-24.978)" x="-462" y="4">GRIN2A</text>
<text transform="rotate(-23.392)" x="-462" y="4">MYH11</text>
<text transform="rotate(-21.806)" x="-462" y="4">GPR139</text>
<text transform="rotate(-20.22)" x="-462" y="4">DCTN5</text>
<text transform="rotate(-18.634)" x="-462" y="4">PRKCB1</text>
<text transform="rotate(-17.048)" x="-462" y="4">PRRT2</text>
<text transform="rotate(-15.463)" x="-462" y="4">SEZ6L2</text>
<text transform="rotate(-13.877)" x="-462" y="4">KCTD13</text>
<text transform="rotate(-12.291)" x="-462" y="4">TAOK2</text>
<text transform="rotate(-10.705)" x="-462" y="4">HIRIP3</text>
<text transform="rotate(-9.119)" x="-462" y="4">DOC2A</text>
<text transform="rotate(-7.533)" x="-462" y="4">RPGRIP1L</text>
<text transform="rotate(-5.947)" x="-462" y="4">CDH8</text>
<text transform="rotate(-4.361)" x="-462" y="4">CHST5</text>
<text transform="rotate(-2.775)" x="-462" y="4">GAN</text>
<text transform="rotate(-1.189)" x="-462" y="4">ANKRD11</text>
<text transform="rotate(1.982)" x="-462" y="4">YWHAE</text>
<text transform="rotate(3.568)" x="-462" y="4">PAFAH1B1</text>
<text transform="rotate(5.154)" x="-462" y="4">RAI1</text>
<text transform="rotate(6.74)" x="-462" y="4">NF1</text>
<text transform="rotate(8.326)" x="-462" y="4">ACCN1</text>
<text transform="rotate(9.912)" x="-462" y="4">ITGB3</text>
<text transform="rotate(11.498)" x="-462" y="4">CACNA1G</text>
<text transform="rotate(13.084)" x="-462" y="4">BZRAP1</text>
<text transform="rotate(14.67)" x="-462" y="4">TLK2</text>
<text transform="rotate(16.256)" x="-462" y="4">SGSH</text>
<text transform="rotate(17.841)" x="-462" y="4">SLC38A10</text>
<text transform="rotate(19.427)" x="-462" y="4">SLC16A3</text>
<text transform="rotate(21.013)" x="-462" y="4">CSNK1D</text>
<text transform="rotate(24.185)" x="-462" y="4">KATNAL2</text>
<text transform="rotate(25.771)" x="-462" y="4">FBXO15</text>
<text transform="rotate(28.943)" x="-462" y="4">SYT3</text>
<text transform="rotate(30.529)" x="-462" y="4">SHANK1</text>
<text transform="rotate(33.7)" x="-462" y="4">PTPRT</text>
<text transform="rotate(35.286)" x="-462" y="4">GNAS</text>
<text transform="rotate(38.458)" x="-462" y="4">RUNX1</text>
<text transform="rotate(40.044)" x="-462" y="4">DYRK1A</text>
<text transform="rotate(43.216)" x="-462" y="4">PRODH</text>
<text transform="rotate(44.802)" x="-462" y="4">DGCR9</text>
<text transform="rotate(46.388)" x="-462" y="4">DGCR2</text>
<text transform="rotate(47.974)" x="-462" y="4">CLTCL1</text>
<text transform="rotate(49.559)" x="-462" y="4">CLDN5</text>
<text transform="rotate(51.145)" x="-462" y="4">TBX1</text>
<text transform="rotate(52.731)" x="-462" y="4">GNB1L</text>
<text transform="rotate(54.317)" x="-462" y="4">UBE2L3</text>
<text transform="rotate(55.903)" x="-462" y="4">SDF2L1</text>
<text transform="rotate(57.489)" x="-462" y="4">CACNA1I</text>
<text transform="rotate(59.075)" x="-462" y="4">ADSL</text>
<text transform="rotate(60.661)" x="-462" y="4">SHANK3</text>
<text transform="rotate(63.833)" x="-462" y="4">ASMTX</text>
<text transform="rotate(65.419)" x="-462" y="4">NLGN4X</text>
<text transform="rotate(67.004)" x="-462" y="4">MID1</text>
<text transform="rotate(68.59)" x="-462" y="4">GLRA2</text>
<text transform="rotate(70.176)" x="-462" y="4">CDKL5</text>
<text transform="rotate(71.762)" x="-462" y="4">DDX53</text>
<text transform="rotate(73.348)" x="-462" y="4">IL1RAPL1</text>
<text transform="rotate(74.934)" x="-462" y="4">PPP1R3F</text>
<text transform="rotate(76.52)" x="-462" y="4">OPHN1</text>
<text transform="rotate(78.106)" x="-462" y="4">NLGN3</text>
<text transform="rotate(79.692)" x="-462" y="4">ATRX</text>
<text transform="rotate(81.278)" x="-462" y="4">DCX</text>
<text transform="rotate(82.863)" x="-462" y="4">AGTR2</text>
<text transform="rotate(84.449)" x="-462" y="4">FMR1</text>
<text transform="rotate(86.035)" x="-462" y="4">RPL10</text>
</g>
</g>

<g id="connectors">
<line x1="508" y1="368" x2="598" y2="362"/>
<line x1="447" y1="400" x2="409" y2="431"/>
<line x1="326" y1="452" x2="317" y2="523"/>
<line x1="643" y1="413" x2="665" y2="440"/>
<line x1="716" y1="443" x2="760" y2="447"/>
<line x1="778" y1="477" x2="795" y2="508"/>
<line x1="795" y1="508" x2="770" y2="537"/>
<line x1="502" y1="432" x2="525" y2="482"/>
<line x1="477" y1="485" x2="525" y2="482"/>
<line x1="477" y1="485" x2="495" y2="515"/>
<line x1="572" y1="428" x2="570" y2="480"/>
<line x1="525" y1="482" x2="594" y2="560"/>
<line x1="570" y1="480" x2="628" y2="515"/>
<line x1="570" y1="480" x2="532" y2="552"/>
<line x1="631" y1="474" x2="628" y2="515"/>
<line x1="678" y1="494" x2="628" y2="515"/>
<line x1="495" y1="515" x2="628" y2="515"/>
<line x1="495" y1="515" x2="423" y2="534"/>
<line x1="495" y1="515" x2="532" y2="552"/>
<line x1="407" y1="498" x2="423" y2="534"/>
<line x1="423" y1="534" x2="433" y2="571"/>
<line x1="532" y1="552" x2="628" y2="515"/>
<line x1="433" y1="571" x2="532" y2="552"/>
<line x1="532" y1="552" x2="661" y2="614"/>
<line x1="628" y1="515" x2="686" y2="553"/>
<line x1="628" y1="515" x2="661" y2="614"/>
<line x1="719" y1="518" x2="686" y2="553"/>
<line x1="719" y1="518" x2="743" y2="587"/>
<line x1="686" y1="553" x2="743" y2="587"/>
<line x1="686" y1="553" x2="644" y2="586"/>
<line x1="686" y1="553" x2="704" y2="627"/>
<line x1="644" y1="586" x2="743" y2="587"/>
<line x1="743" y1="587" x2="778" y2="562"/>
<line x1="743" y1="587" x2="777" y2="626"/>
<line x1="743" y1="587" x2="745" y2="646"/>
<line x1="743" y1="587" x2="704" y2="627"/>
<line x1="743" y1="587" x2="661" y2="614"/>
<line x1="378" y1="558" x2="433" y2="571"/>
<line x1="433" y1="571" x2="474" y2="600"/>
<line x1="433" y1="571" x2="500" y2="581"/>
<line x1="433" y1="571" x2="411" y2="624"/>
<line x1="474" y1="600" x2="541" y2="597"/>
<line x1="474" y1="600" x2="534" y2="631"/>
<line x1="474" y1="600" x2="470" y2="627"/>
<line x1="500" y1="581" x2="534" y2="631"/>
<line x1="562" y1="579" x2="585" y2="631"/>
<line x1="594" y1="560" x2="616" y2="575"/>
<line x1="633" y1="551" x2="616" y2="575"/>
<line x1="616" y1="575" x2="640" y2="651"/>
<line x1="616" y1="575" x2="585" y2="631"/>
<line x1="594" y1="560" x2="610" y2="714"/>
<line x1="644" y1="586" x2="517" y2="671"/>
<line x1="661" y1="614" x2="517" y2="671"/>
<line x1="275" y1="549" x2="292" y2="584"/>
<line x1="292" y1="584" x2="347" y2="592"/>
<line x1="292" y1="584" x2="309" y2="642"/>
<line x1="347" y1="592" x2="309" y2="642"/>
<line x1="265" y1="610" x2="309" y2="642"/>
<line x1="309" y1="642" x2="355" y2="635"/>
<line x1="309" y1="642" x2="279" y2="666"/>
<line x1="309" y1="642" x2="398" y2="722"/>
<line x1="355" y1="635" x2="411" y2="624"/>
<line x1="355" y1="635" x2="376" y2="670"/>
<line x1="279" y1="666" x2="285" y2="707"/>
<line x1="285" y1="707" x2="326" y2="690"/>
<line x1="285" y1="707" x2="323" y2="749"/>
<line x1="411" y1="624" x2="428" y2="685"/>
<line x1="444" y1="647" x2="428" y2="685"/>
<line x1="428" y1="685" x2="457" y2="728"/>
<line x1="428" y1="685" x2="376" y2="751"/>
<line x1="398" y1="722" x2="457" y2="728"/>
<line x1="398" y1="722" x2="424" y2="763"/>
<line x1="424" y1="763" x2="492" y2="772"/>
<line x1="376" y1="751" x2="369" y2="799"/>
<line x1="474" y1="691" x2="517" y2="671"/>
<line x1="517" y1="671" x2="574" y2="669"/>
<line x1="517" y1="671" x2="572" y2="718"/>
<line x1="517" y1="671" x2="599" y2="756"/>
<line x1="574" y1="669" x2="687" y2="667"/>
<line x1="687" y1="667" x2="745" y2="646"/>
<line x1="687" y1="667" x2="599" y2="756"/>
<line x1="745" y1="646" x2="777" y2="626"/>
<line x1="574" y1="669" x2="591" y2="694"/>
<line x1="574" y1="669" x2="572" y2="718"/>
<line x1="574" y1="669" x2="529" y2="747"/>
<line x1="574" y1="669" x2="514" y2="709"/>
<line x1="610" y1="714" x2="572" y2="718"/>
<line x1="610" y1="714" x2="591" y2="694"/>
<line x1="610" y1="714" x2="670" y2="720"/>
<line x1="610" y1="714" x2="529" y2="747"/>
<line x1="599" y1="756" x2="572" y2="718"/>
<line x1="599" y1="756" x2="591" y2="694"/>
<line x1="599" y1="756" x2="529" y2="747"/>
<line x1="572" y1="718" x2="514" y2="709"/>
<line x1="747" y1="697" x2="774" y2="738"/>
<line x1="662" y1="757" x2="670" y2="793"/>
<line x1="734" y1="761" x2="719" y2="815"/>
<line x1="640" y1="651" x2="670" y2="720"/>
</g>

<g id="nodes">
<g id="n-GAN" class="n b"><circle cx="508" cy="368" r="12"/><text x="508" y="372.3">GAN</text></g>
<g id="n-CUL3" class="n b"><circle cx="598" cy="362" r="12"/><text x="598" y="366.3">CUL3</text></g>
<g id="n-CSNK1D" class="n b"><circle cx="447" cy="400" r="12"/><text x="447" y="404.3">CSNK1D</text></g>
<g id="n-MCC" class="n b"><circle cx="409" cy="431" r="12"/><text x="409" y="435.3">MCC</text></g>
<g id="n-KCNMA1" class="n b"><circle cx="326" cy="452" r="12"/><text x="326" y="456.3">KCNMA1</text></g>
<g id="n-CACNA1H" class="n p"><circle cx="317" cy="523" r="12"/><text x="317" y="527.3">CACNA1H</text></g>
<g id="n-CUBN" class="n g"><circle cx="502" cy="432" r="12"/><text x="502" y="436.3">CUBN</text></g>
<g id="n-CNKSR2" class="n g"><circle cx="572" cy="428" r="12"/><text x="572" y="432.3">CNKSR2</text></g>
<g id="n-CYFIP1" class="n p"><circle cx="643" cy="413" r="12"/><text x="643" y="417.3">CYFIP1</text></g>
<g id="n-FMR1" class="n p"><circle cx="665" cy="440" r="12"/><text x="665" y="444.3">FMR1</text></g>
<g id="n-FHIT" class="n b"><circle cx="716" cy="443" r="12"/><text x="716" y="447.3">FHIT</text></g>
<g id="n-GSN" class="n b"><circle cx="760" cy="447" r="12"/><text x="760" y="451.3">GSN</text></g>
<g id="n-NFASC" class="n p"><circle cx="778" cy="477" r="12"/><text x="778" y="481.3">NFASC</text></g>
<g id="n-SLC9A3" class="n g"><circle cx="477" cy="485" r="12"/><text x="477" y="489.3">SLC9A3</text></g>
<g id="n-LRP2" class="n b"><circle cx="525" cy="482" r="12"/><text x="525" y="486.3">LRP2</text></g>
<g id="n-SHANK3" class="n p"><circle cx="570" cy="480" r="12"/><text x="570" y="484.3">SHANK3</text></g>
<g id="n-NLGN4X" class="n p"><circle cx="631" cy="474" r="12"/><text x="631" y="478.3">NLGN4X</text></g>
<g id="n-NLGN4Y" class="n p"><circle cx="678" cy="494" r="12"/><text x="678" y="498.3">NLGN4Y</text></g>
<g id="n-GNA14" class="n b"><circle cx="407" cy="498" r="12"/><text x="407" y="502.3">GNA14</text></g>
<g id="n-SHANK2" class="n p"><circle cx="495" cy="515" r="12"/><text x="495" y="519.3">SHANK2</text></g>
<g id="n-DLGAP2" class="n p"><circle cx="628" cy="515" r="12"/><text x="628" y="519.3">DLGAP2</text></g>
<g id="n-SYNGAP1" class="n b"><circle cx="719" cy="518" r="12"/><text x="719" y="522.3">SYNGAP1</text></g>
<g id="n-DCX" class="n b"><circle cx="795" cy="508" r="12"/><text x="795" y="512.3">DCX</text></g>
<g id="n-PAFAH1B1" class="n b"><circle cx="770" cy="537" r="12"/><text x="770" y="541.3">PAFAH1B1</text></g>
<g id="n-MAP2" class="n b"><circle cx="778" cy="562" r="12"/><text x="778" y="566.3">MAP2</text></g>
<g id="n-SSTR2" class="n g"><circle cx="423" cy="534" r="12"/><text x="423" y="538.3">SSTR2</text></g>
<g id="n-DLGAP1" class="n g"><circle cx="532" cy="552" r="12"/><text x="532" y="556.3">DLGAP1</text></g>
<g id="n-APBA2" class="n b"><circle cx="594" cy="560" r="12"/><text x="594" y="564.3">APBA2</text></g>
<g id="n-DOC2A" class="n p"><circle cx="633" cy="551" r="12"/><text x="633" y="555.3">DOC2A</text></g>
<g id="n-GRIN2B" class="n p"><circle cx="686" cy="553" r="12"/><text x="686" y="557.3">GRIN2B</text></g>
<g id="n-SHARPIN" class="n g"><circle cx="378" cy="558" r="12"/><text x="378" y="562.3">SHARPIN</text></g>
<g id="n-SHANK1" class="n p"><circle cx="433" cy="571" r="12"/><text x="433" y="575.3">SHANK1</text></g>
<g id="n-HOMER3" class="n g"><circle cx="500" cy="581" r="12"/><text x="500" y="585.3">HOMER3</text></g>
<g id="n-ITGB3" class="n b"><circle cx="562" cy="579" r="12"/><text x="562" y="583.3">ITGB3</text></g>
<g id="n-STXBP1" class="n g"><circle cx="616" cy="575" r="12"/><text x="616" y="579.3">STXBP1</text></g>
<g id="n-PRKCB" class="n b"><circle cx="644" cy="586" r="12"/><text x="644" y="590.3">PRKCB</text></g>
<g id="n-GRIN1" class="n p"><circle cx="743" cy="587" r="12"/><text x="743" y="591.3">GRIN1</text></g>
<g id="n-DYRK1A" class="n b"><circle cx="275" cy="549" r="12"/><text x="275" y="553.3">DYRK1A</text></g>
<g id="n-YWHAE" class="n b"><circle cx="292" cy="584" r="12"/><text x="292" y="588.3">YWHAE</text></g>
<g id="n-TSC1" class="n p"><circle cx="347" cy="592" r="12"/><text x="347" y="596.3">TSC1</text></g>
<g id="n-RAB11FIP5" class="n b"><circle cx="265" cy="610" r="12"/><text x="265" y="614.3">RAB11FIP5</text></g>
<g id="n-HOMER1" class="n p"><circle cx="474" cy="600" r="12"/><text x="474" y="604.3">HOMER1</text></g>
<g id="n-FAT1" class="n b"><circle cx="541" cy="597" r="12"/><text x="541" y="601.3">FAT1</text></g>
<g id="n-GRIN2A" class="n p"><circle cx="661" cy="614" r="12"/><text x="661" y="618.3">GRIN2A</text></g>
<g id="n-RPS6KA2" class="n b"><circle cx="411" cy="624" r="12"/><text x="411" y="628.3">RPS6KA2</text></g>
<g id="n-RYR2" class="n b"><circle cx="470" cy="627" r="12"/><text x="470" y="631.3">RYR2</text></g>
<g id="n-GRM5" class="n p"><circle cx="534" cy="631" r="12"/><text x="534" y="635.3">GRM5</text></g>
<g id="n-APBA1" class="n p"><circle cx="585" cy="631" r="12"/><text x="585" y="635.3">APBA1</text></g>
<g id="n-EPHB2" class="n b"><circle cx="704" cy="627" r="12"/><text x="704" y="631.3">EPHB2</text></g>
<g id="n-NF1" class="n b"><circle cx="777" cy="626" r="12"/><text x="777" y="630.3">NF1</text></g>
<g id="n-TSC2" class="n p"><circle cx="309" cy="642" r="12"/><text x="309" y="646.3">TSC2</text></g>
<g id="n-MAPK3" class="n p"><circle cx="355" cy="635" r="12"/><text x="355" y="639.3">MAPK3</text></g>
<g id="n-HRAS" class="n b"><circle cx="745" cy="646" r="12"/><text x="745" y="650.3">HRAS</text></g>
<g id="n-STX1A" class="n p"><circle cx="640" cy="651" r="12"/><text x="640" y="655.3">STX1A</text></g>
<g id="n-UBE3A" class="n p"><circle cx="279" cy="666" r="12"/><text x="279" y="670.3">UBE3A</text></g>
<g id="n-GTF2I" class="n b"><circle cx="376" cy="670" r="12"/><text x="376" y="674.3">GTF2I</text></g>
<g id="n-NFIA" class="n b"><circle cx="444" cy="647" r="12"/><text x="444" y="651.3">NFIA</text></g>
<g id="n-GASK" class="n g"><circle cx="517" cy="671" r="12"/><text x="517" y="675.3">GASK</text></g>
<g id="n-NRXN2" class="n p"><circle cx="574" cy="669" r="12"/><text x="574" y="673.3">NRXN2</text></g>
<g id="n-MLLT4" class="n g"><circle cx="687" cy="667" r="12"/><text x="687" y="671.3">MLLT4</text></g>
<g id="n-CREBBP" class="n b"><circle cx="428" cy="685" r="12"/><text x="428" y="689.3">CREBBP</text></g>
<g id="n-CNTNAP2" class="n p"><circle cx="474" cy="691" r="12"/><text x="474" y="695.3">CNTNAP2</text></g>
<g id="n-NLGN2" class="n p"><circle cx="591" cy="694" r="12"/><text x="591" y="698.3">NLGN2</text></g>
<g id="n-MID1" class="n b"><circle cx="326" cy="690" r="12"/><text x="326" y="694.3">MID1</text></g>
<g id="n-UBE2L3" class="n b"><circle cx="285" cy="707" r="12"/><text x="285" y="711.3">UBE2L3</text></g>
<g id="n-PTPRT" class="n b"><circle cx="514" cy="709" r="12"/><text x="514" y="713.3">PTPRT</text></g>
<g id="n-NLGN1" class="n p"><circle cx="572" cy="718" r="17"/><text x="572" y="722.3">NLGN1</text></g>
<g id="n-NRXN1" class="n p"><circle cx="610" cy="714" r="12"/><text x="610" y="718.3">NRXN1</text></g>
<g id="n-SYT1" class="n p"><circle cx="670" cy="720" r="12"/><text x="670" y="724.3">SYT1</text></g>
<g id="n-KLC2" class="n b"><circle cx="747" cy="697" r="12"/><text x="747" y="701.3">KLC2</text></g>
<g id="n-SMAD3" class="n g"><circle cx="398" cy="722" r="12"/><text x="398" y="726.3">SMAD3</text></g>
<g id="n-RUNX1" class="n b"><circle cx="457" cy="728" r="12"/><text x="457" y="732.3">RUNX1</text></g>
<g id="n-KIF5C" class="n b"><circle cx="774" cy="738" r="12"/><text x="774" y="742.3">KIF5C</text></g>
<g id="n-PTEN" class="n p"><circle cx="323" cy="749" r="12"/><text x="323" y="753.3">PTEN</text></g>
<g id="n-BRCA2" class="n b"><circle cx="376" cy="751" r="12"/><text x="376" y="755.3">BRCA2</text></g>
<g id="n-NLGN3" class="n p"><circle cx="529" cy="747" r="12"/><text x="529" y="751.3">NLGN3</text></g>
<g id="n-NRXN3" class="n p"><circle cx="599" cy="756" r="12"/><text x="599" y="760.3">NRXN3</text></g>
<g id="n-ANK3" class="n b"><circle cx="424" cy="763" r="12"/><text x="424" y="767.3">ANK3</text></g>
<g id="n-FOXP1" class="n b"><circle cx="662" cy="757" r="12"/><text x="662" y="761.3">FOXP1</text></g>
<g id="n-AGTR2" class="n b"><circle cx="734" cy="761" r="12"/><text x="734" y="765.3">AGTR2</text></g>
<g id="n-SCN2A" class="n b"><circle cx="492" cy="772" r="12"/><text x="492" y="776.3">SCN2A</text></g>
<g id="n-MCPH1" class="n b"><circle cx="369" cy="799" r="12"/><text x="369" y="803.3">MCPH1</text></g>
<g id="n-FOXP2" class="n b"><circle cx="670" cy="793" r="12"/><text x="670" y="797.3">FOXP2</text></g>
<g id="n-AGT" class="n g"><circle cx="719" cy="815" r="12"/><text x="719" y="819.3">AGT</text></g>
</g>

<g id="network-legend">
<line x1="419" y1="820" x2="444" y2="820" stroke="#f4a287" stroke-width="4.5" stroke-opacity="0.8"/>
<text class="lgt" x="452" y="824.5">Physical interactions</text>
<circle cx="431" cy="843" r="8.5" fill="#92278f"/>
<text class="lgt" x="452" y="847.5">Synapse</text>
<circle cx="431" cy="870" r="8.5" fill="#939598"/>
<text class="lgt" x="452" y="874.5">Intermediate proteins not present</text>
<text class="lgt" x="452" y="891">in the list of de novo variants</text>
</g>
</svg>
